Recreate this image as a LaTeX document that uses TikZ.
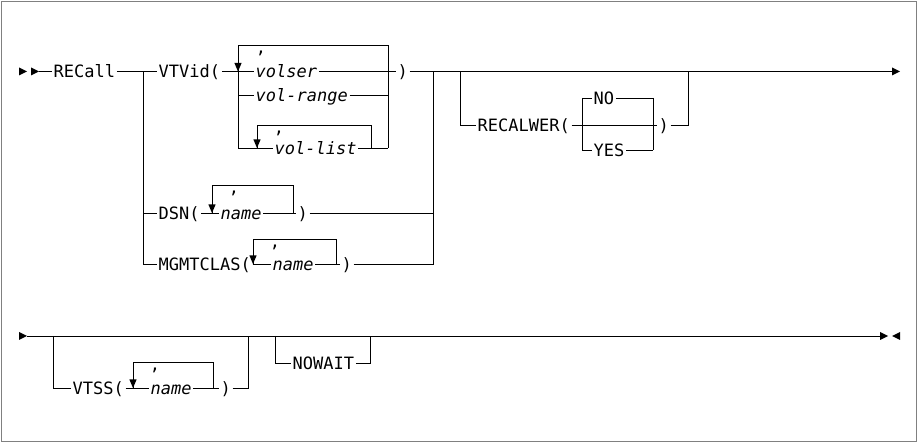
\documentclass[tikz,border=0pt]{standalone}
\usepackage{fontspec}
\setmonofont{DejaVu Sans Mono}
\tikzset{
  lbl/.style={font=\ttfamily\fontsize{17}{17}\selectfont, inner xsep=1.5pt, inner ysep=0pt, anchor=west, text height=12.4pt, text depth=0pt},
  var/.style={lbl, font=\ttfamily\itshape\fontsize{17}{17}\selectfont},
  commalbl/.style={font=\ttfamily\fontsize{17}{17}\selectfont, inner sep=0pt, anchor=base},
  rt/.pic={\fill (-8,-4) -- (-8,4) -- (0,0) -- cycle;},
  lt/.pic={\fill (8,-4) -- (8,4) -- (0,0) -- cycle;},
  dn/.pic={\fill (-3.6,-8.5) -- (3.6,-8.5) -- (0,0) -- cycle;},
  railline/.style={line width=0.9pt, black},
  framebox/.style={line width=1.5pt, gray}
}
\begin{document}
\begin{tikzpicture}[x=1pt,y=-1pt]
\useasboundingbox (0,0) rectangle (919,443);
\draw[framebox] (1.5,1.5) rectangle (916.5,441.5);

% ---- nodes row 1
\node[lbl] (recall) at (52,71.5) {RECall};
\node[lbl] (vtvid) at (157,71.5) {VTVid(};
\node[var] (volser) at (254,71.5) {volser};
\node[var] (volrange) at (254,95) {vol-range};
\node[var] (vollist) at (273,148) {vol-list};
\node[lbl] (vtclose) at (396,71.5) {)};
\node[lbl] (dsn) at (157,213) {DSN(};
\node[var] (dsnname) at (219,213) {name};
\node[lbl] (dsnclose) at (296,213) {)};
\node[lbl] (mgmt) at (157,264) {MGMTCLAS(};
\node[var] (mgmtname) at (271,264) {name};
\node[lbl] (mgmtclose) at (340,264) {)};
\node[lbl] (recalwer) at (476,125) {RECALWER(};
\node[lbl] (no) at (592,98) {NO};
\node[lbl] (yes) at (592,150) {YES};
\node[lbl] (rwclose) at (657,125) {)};
\node[commalbl] (c1) at (261,54) {,};
\node[commalbl] (c2) at (279,134) {,};
\node[commalbl] (c3) at (234,194) {,};
\node[commalbl] (c4) at (275,248) {,};
% ---- nodes row 2
\node[lbl] (vtss) at (71,388) {VTSS(};
\node[var] (vtssname) at (149,388) {name};
\node[lbl] (vtssclose) at (219,388) {)};
\node[lbl] (nowait) at (291,363) {NOWAIT};
\node[commalbl] (c5) at (155,371) {,};

\coordinate (st1) at (39,71.5);
\coordinate (b1) at (143,71.5);
\coordinate (j1) at (433,71.5);
\coordinate (b2) at (460,71.5);
\coordinate (j2) at (688,71.5);
\coordinate (e1) at (892,71.5);
\coordinate (st2) at (27,336);
\coordinate (b3) at (53,336);
\coordinate (j3) at (248,336);
\coordinate (b4) at (275,336);
\coordinate (j4) at (370,336);
\coordinate (e2) at (880,336);

\begin{scope}[railline]
% row 1
\pic at (27,71.5) {rt};
\pic at (39,71.5) {rt};
\draw (st1) -- (recall.west);
\draw (recall.east) -- (vtvid.west);
\draw (b1) |- (mgmt.west);
\draw (b1 |- dsn.west) -- (dsn.west);
% VTVid loop
\draw (vtvid.east) -- (volser.west);
\draw (238,148) -- (238,45) -- (388,45) -- (388,148);
\draw (238,95) -- (volrange.west);
\draw (volrange.east) -- (388,95);
\draw (238,148) -- (vollist.west);
\draw (vollist.east) -- (388,148);
\draw (257,148) -- (257,125) -- (371,125) -- (371,148);
\pic at (238,71.5) {dn};
\pic at (257,148) {dn};
\draw (volser.east) -- (vtclose.west);
\draw (vtclose.east) -- (e1);
\pic at (900,71.5) {rt};
% DSN
\draw (dsn.east) -- (dsnname.west);
\draw (212,213) -- (212,185) -- (293,185) -- (293,213);
\pic at (212,213) {dn};
\draw (dsnname.east) -- (dsnclose.west);
\draw (dsnclose.east) -- (j1 |- dsnclose.east);
% MGMTCLAS
\draw (mgmt.east) -- (mgmtname.west);
\draw (253,264) -- (253,239) -- (336,239) -- (336,264);
\pic at (253,264) {dn};
\draw (mgmtname.east) -- (mgmtclose.west);
\draw (mgmtclose.east) -| (j1);
% RECALWER
\draw (b2) |- (recalwer.west);
\draw (recalwer.east) -- (rwclose.west);
\draw (582,98) -- (582,150);
\draw (653,98) -- (653,150);
\draw (582,98) -- (no.west);
\draw (no.east) -- (653,98);
\draw (582,150) -- (yes.west);
\draw (yes.east) -- (653,150);
\draw (rwclose.east) -| (j2);
% row 2
\pic at (27,336) {rt};
\draw (st2) -- (e2);
\pic at (888,336) {rt};
\pic at (892,336) {lt};
\draw (b3) |- (vtss.west);
\draw (vtss.east) -- (vtssname.west);
\draw (133,388) -- (133,362) -- (213,362) -- (213,388);
\pic at (133,388) {dn};
\draw (vtssname.east) -- (vtssclose.west);
\draw (vtssclose.east) -| (j3);
\draw (b4) |- (nowait.west);
\draw (nowait.east) -| (j4);
\end{scope}
\end{tikzpicture}
\end{document}
